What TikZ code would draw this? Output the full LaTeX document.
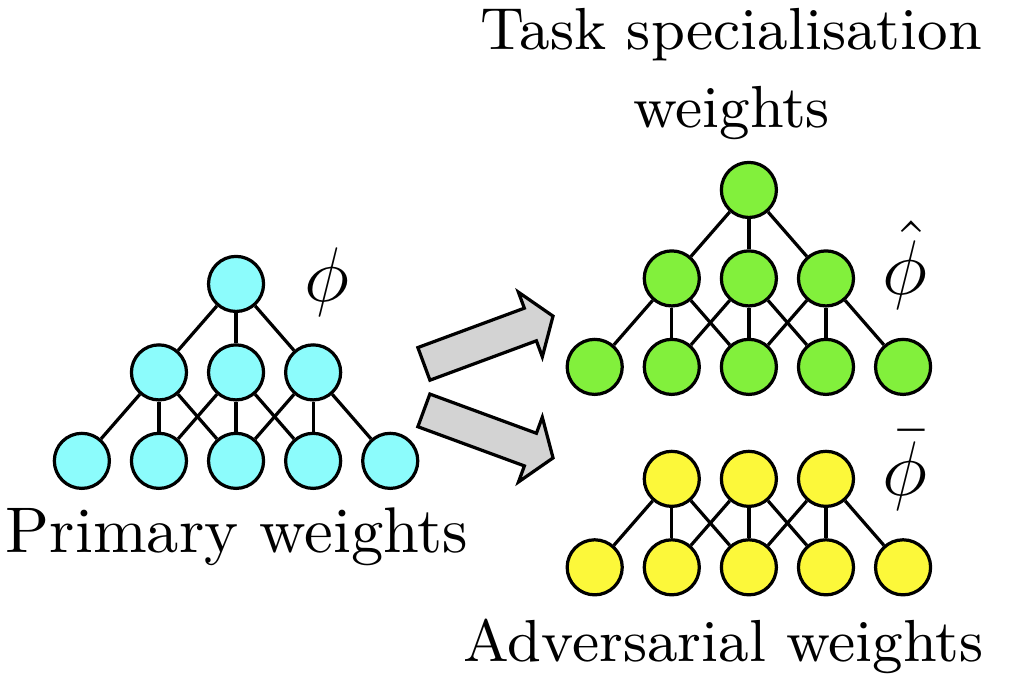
\documentclass[tikz,border=0pt]{standalone}
\usetikzlibrary{shapes.arrows}

\definecolor{primcol}{RGB}{140,252,252}
\definecolor{taskcol}{RGB}{130,240,60}
\definecolor{advcol}{RGB}{252,248,58}
\definecolor{arrowgray}{RGB}{211,211,211}

\tikzset{
  node distance=0.42cm, % horizontal spacing between neighbours in a row
  unit/.style={circle, draw, line width=0.5pt, minimum size=0.3cm, inner sep=0pt},
  primunit/.style={unit, fill=primcol},
  taskunit/.style={unit, fill=taskcol},
  advunit/.style={unit, fill=advcol},
  down/.style={below of=#1, node distance=0.482cm},
  bigarrow/.style={single arrow, draw, line width=0.5pt, fill=arrowgray,
    minimum height=0.75cm, inner xsep=0pt, inner ysep=0.086cm,
    single arrow head extend=0.093cm, single arrow tip angle=110},
  weightname/.style={anchor=base, font=\fontsize{9.2pt}{12.1pt}\selectfont},
  paramname/.style={anchor=base, font=\large},
}

\begin{document}
\begin{tikzpicture}[line width=0.5pt]
    \useasboundingbox (0,0) rectangle (5.628,3.699);

    % primary weights
    \node[primunit] (p1) at (1.286,2.152) {};
    \node[primunit, down=p1] (p22) {};
    \node[primunit, left of=p22] (p21) {};
    \node[primunit, right of=p22] (p23) {};
    \node[primunit, down=p22] (p33) {};
    \node[primunit, left of=p33] (p32) {};
    \node[primunit, left of=p32] (p31) {};
    \node[primunit, right of=p33] (p34) {};
    \node[primunit, right of=p34] (p35) {};
    \draw   (p1) edge (p21) (p1) edge (p22) (p1) edge (p23)
            (p21) edge (p31) (p21) edge (p32) (p21) edge (p33)
            (p22) edge (p32) (p22) edge (p33) (p22) edge (p34)
            (p23) edge (p33) (p23) edge (p34) (p23) edge (p35);
    \node[paramname] (phi) at (1.781,2.054) {$\phi$};
    \node[anchor=base] (primlabel) at (1.291,0.688) {Primary weights};

    % arrows
    \node[bigarrow, rotate=20.3] (uparrow) at (2.630,1.835) {};
    \node[bigarrow, rotate=-20.2] (downarrow) at (2.630,1.345) {};

    % task specialisation weights
    \node[taskunit] (t1) at (4.080,2.664) {};
    \node[taskunit, down=t1] (t22) {};
    \node[taskunit, left of=t22] (t21) {};
    \node[taskunit, right of=t22] (t23) {};
    \node[taskunit, down=t22] (t33) {};
    \node[taskunit, left of=t33] (t32) {};
    \node[taskunit, left of=t32] (t31) {};
    \node[taskunit, right of=t33] (t34) {};
    \node[taskunit, right of=t34] (t35) {};
    \draw   (t1) edge (t21) (t1) edge (t22) (t1) edge (t23)
            (t21) edge (t31) (t21) edge (t32) (t21) edge (t33)
            (t22) edge (t32) (t22) edge (t33) (t22) edge (t34)
            (t23) edge (t33) (t23) edge (t34) (t23) edge (t35);
    \node[paramname] (phihat) at (4.932,2.092) {$\hat{\phi}$};
    \node[weightname, align=center] (tasklabel) at (3.985,3.002) {Task specialisation\\weights};

    % adversarial weights
    \node[advunit] (a22) at (4.080,1.090) {};
    \node[advunit, left of=a22] (a21) {};
    \node[advunit, right of=a22] (a23) {};
    \node[advunit, down=a22] (a33) {};
    \node[advunit, left of=a33] (a32) {};
    \node[advunit, left of=a32] (a31) {};
    \node[advunit, right of=a33] (a34) {};
    \node[advunit, right of=a34] (a35) {};
    \draw   (a21) edge (a31) (a21) edge (a32) (a21) edge (a33)
            (a22) edge (a32) (a22) edge (a33) (a22) edge (a34)
            (a23) edge (a33) (a23) edge (a34) (a23) edge (a35);
    \node[paramname] (phibar) at (4.932,1.002) {$\bar{\phi}$};
    \node[weightname] (advlabel) at (3.942,0.094) {Adversarial weights};
\end{tikzpicture}
\end{document}
